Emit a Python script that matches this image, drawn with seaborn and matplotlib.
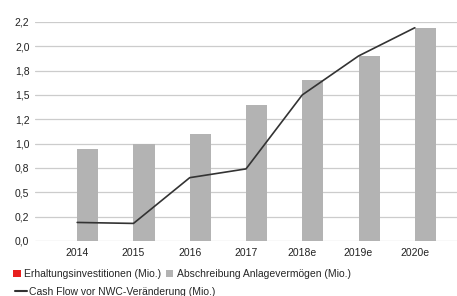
import numpy as np
import pandas as pd
import matplotlib
matplotlib.use("Agg")
import matplotlib.pyplot as plt
import seaborn as sns
from matplotlib.patches import Patch
from matplotlib.lines import Line2D

years = ["2014", "2015", "2016", "2017", "2018e", "2019e", "2020e"]
erhaltung = [0, 0, 0, 0, 0, 0, 0]
abschreibung = [0.94, 1.00, 1.10, 1.40, 1.65, 1.90, 2.19]
cashflow = [0.19, 0.18, 0.65, 0.74, 1.50, 1.90, 2.19]
ytick_vals = [0, 0.25, 0.5, 0.75, 1.0, 1.25, 1.5, 1.75, 2.0, 2.25]
ytick_labels = ["0,0", "0,2", "0,5", "0,8", "1,0", "1,2", "1,5", "1,8", "2,0", "2,2"]
lab_red = "Erhaltungsinvestitionen (Mio.)"
lab_grey = "Abschreibung Anlagevermögen (Mio.)"
lab_line = "Cash Flow vor NWC-Veränderung (Mio.)"

FS = 7.5
sns.set_theme(style="white")
plt.rcParams["font.family"] = ["Liberation Sans", "DejaVu Sans"]
plt.rcParams["font.size"] = FS

df = pd.DataFrame({
    "Jahr": years * 2,
    "Wert": erhaltung + abschreibung,
    "Serie": [lab_red] * len(years) + [lab_grey] * len(years),
})

fig = plt.figure(figsize=(4.57, 2.96), dpi=100)
ax = fig.add_axes([0.0766, 0.186, 0.9234, 0.740])

red = "#e8201f"
grey = "#b3b3b3"
sns.barplot(data=df, x="Jahr", y="Wert", hue="Serie", order=years,
            palette={lab_red: red, lab_grey: grey}, width=0.75,
            dodge=True, linewidth=0, saturation=1, legend=False, ax=ax)
sns.lineplot(x=np.arange(len(years)), y=cashflow, color="#333333",
             linewidth=1.2, ax=ax, zorder=5)

ax.set_ylim(0, 2.25)
ax.set_xlim(-0.75, len(years) - 0.25)
ax.set_yticks(ytick_vals)
ax.set_yticklabels(ytick_labels)
ax.set_xticks(range(len(years)))
ax.set_xticklabels(years)
ax.set_xlabel("")
ax.set_ylabel("")
ax.yaxis.grid(True, color="#cccccc", linewidth=0.9)
ax.set_axisbelow(True)
for s in ax.spines.values():
    s.set_visible(False)
ax.tick_params(axis="both", length=0, labelsize=FS, colors="#222222")
ax.tick_params(axis="y", pad=4)
ax.tick_params(axis="x", pad=5)

h1 = [Patch(facecolor=red, edgecolor="none"), Patch(facecolor=grey, edgecolor="none")]
fig.legend(h1, [lab_red, lab_grey], loc="center left", bbox_to_anchor=(0.028, 1 - 274 / 296),
           ncol=2, frameon=False, fontsize=FS, handlelength=0.75, handleheight=0.75,
           handletextpad=0.35, columnspacing=0.4, borderpad=0, borderaxespad=0)
h2 = [Line2D([0], [0], color="#333333", linewidth=1.5)]
fig.legend(h2, [lab_line], loc="center left", bbox_to_anchor=(0.032, 1 - 292 / 296),
           frameon=False, fontsize=FS, handlelength=1.2, handletextpad=0.15,
           borderpad=0, borderaxespad=0)

fig.savefig("out.png", dpi=100)
